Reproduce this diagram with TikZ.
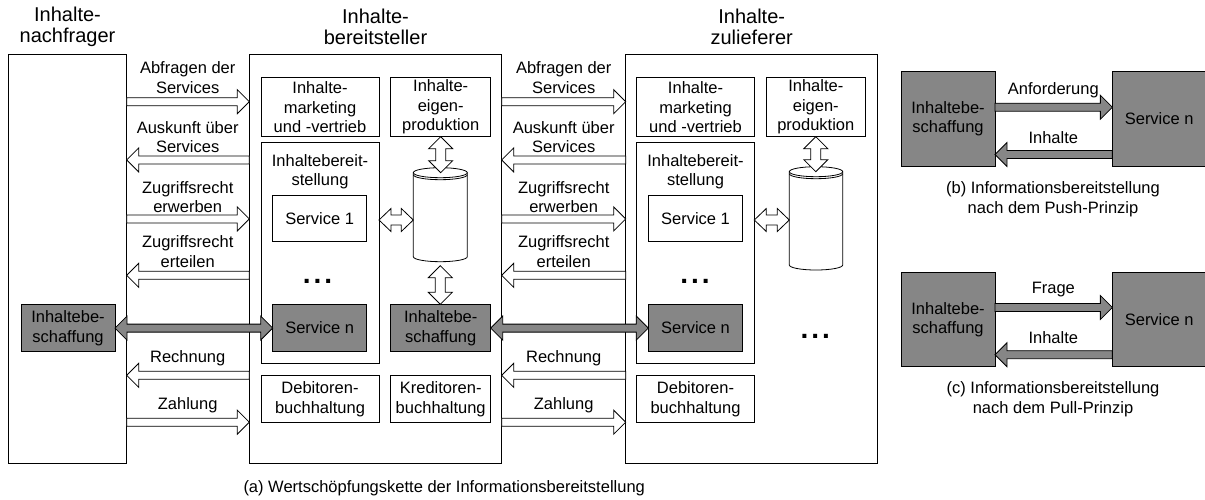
\documentclass[tikz,border=0pt]{standalone}
\usepackage{fontspec}
\setmainfont{Liberation Sans}
\usetikzlibrary{calc}
\definecolor{gfill}{RGB}{134,134,134}
\def\aSW{4}\def\aHW{12}\def\aHL{12}
\newcommand{\fsm}{\fontsize{16.5}{19.5}\selectfont}
\newcommand{\fttl}{\fontsize{20}{20.5}\selectfont}
\newcommand{\threedots}{.\hspace{3pt}.\hspace{3pt}.}
% right-pointing block arrow: tail at #2, tip at #3, pixel y #4
\newcommand{\ArrR}[4][hol]{%
 \draw[#1] let \p1=(#2), \p2=(#3) in
 (\x1,{-(#4-\aSW)*1pt}) -- ({\x2-\aHL*1pt},{-(#4-\aSW)*1pt}) -- ({\x2-\aHL*1pt},{-(#4-\aHW)*1pt})
 -- (\x2,{-(#4)*1pt}) -- ({\x2-\aHL*1pt},{-(#4+\aHW)*1pt}) -- ({\x2-\aHL*1pt},{-(#4+\aSW)*1pt})
 -- (\x1,{-(#4+\aSW)*1pt}) -- cycle;}
% left-pointing block arrow: tip at #2, tail at #3
\newcommand{\ArrL}[4][hol]{%
 \draw[#1] let \p1=(#2), \p2=(#3) in
 (\x2,{-(#4-\aSW)*1pt}) -- ({\x1+\aHL*1pt},{-(#4-\aSW)*1pt}) -- ({\x1+\aHL*1pt},{-(#4-\aHW)*1pt})
 -- (\x1,{-(#4)*1pt}) -- ({\x1+\aHL*1pt},{-(#4+\aHW)*1pt}) -- ({\x1+\aHL*1pt},{-(#4+\aSW)*1pt})
 -- (\x2,{-(#4+\aSW)*1pt}) -- cycle;}
% double horizontal block arrow
\newcommand{\ArrLR}[4][hol]{%
 \draw[#1] let \p1=(#2), \p2=(#3) in
 (\x1,{-(#4)*1pt}) -- ({\x1+\aHL*1pt},{-(#4-\aHW)*1pt}) -- ({\x1+\aHL*1pt},{-(#4-\aSW)*1pt})
 -- ({\x2-\aHL*1pt},{-(#4-\aSW)*1pt}) -- ({\x2-\aHL*1pt},{-(#4-\aHW)*1pt}) -- (\x2,{-(#4)*1pt})
 -- ({\x2-\aHL*1pt},{-(#4+\aHW)*1pt}) -- ({\x2-\aHL*1pt},{-(#4+\aSW)*1pt})
 -- ({\x1+\aHL*1pt},{-(#4+\aSW)*1pt}) -- ({\x1+\aHL*1pt},{-(#4+\aHW)*1pt}) -- cycle;}
% double vertical block arrow: top #2, bottom #3
\newcommand{\ArrUD}[3][hol]{%
 \draw[#1] let \p1=(#2), \p2=(#3) in
 (\x1,\y1) -- ({\x1+\aHW*1pt},{\y1-\aHL*1pt}) -- ({\x1+\aSW*1pt},{\y1-\aHL*1pt})
 -- ({\x1+\aSW*1pt},{\y2+\aHL*1pt}) -- ({\x1+\aHW*1pt},{\y2+\aHL*1pt}) -- (\x1,\y2)
 -- ({\x1-\aHW*1pt},{\y2+\aHL*1pt}) -- ({\x1-\aSW*1pt},{\y2+\aHL*1pt})
 -- ({\x1-\aSW*1pt},{\y1-\aHL*1pt}) -- ({\x1-\aHW*1pt},{\y1-\aHL*1pt}) -- cycle;}
\begin{document}
\begin{tikzpicture}[x=1pt,y=-1pt,
  sz/.style 2 args={minimum width=#1pt, minimum height=#2pt},
  box/.style={draw=black, line width=0.8pt, inner sep=0pt, outer sep=0pt, align=center, font=\fsm},
  gbox/.style={box, fill=gfill},
  txt/.style={inner sep=0pt, align=center, font=\fsm},
  ttl/.style={inner sep=0pt, align=center, font=\fttl},
  dots/.style={inner sep=0pt, font=\fontsize{28}{28}\bfseries\selectfont},
  hol/.style={draw=black, fill=white, line width=0.8pt, line join=miter},
  gar/.style={draw=black, fill=gfill, line width=0.8pt, line join=miter},
  cylst/.style={draw=black, line width=0.8pt},
  anc/.style={inner sep=0pt, outer sep=0pt}]
\useasboundingbox (0,0) rectangle (1205,499);

% titles
\node[ttl] (t1) at (67.5,27) {Inhalte-\\nachfrager};
\node[ttl] (t2) at (375.5,27) {Inhalte-\\bereitsteller};
\node[ttl] (t3) at (751.7,27) {Inhalte-\\zulieferer};

% main boxes
\node[box, sz={118.4}{409}] (nach) at (67.5,258.8) {};
\node[box, sz={252.4}{409}] (bereit) at (375.5,258.8) {};
\node[box, sz={252}{409}] (zulief) at (751.7,258.8) {};

% Inhaltenachfrager
\node[gbox, sz={94}{47.4}] (besch0) at (68,328) {Inhaltebe-\\schaffung};

% Inhaltebereitsteller
\node[box, sz={118}{59}] (mark1) at (320,107.2) {Inhalte-\\marketing\\und -vertrieb};
\node[box, sz={100}{59}] (eigen1) at (440.7,107.2) {Inhalte-\\eigen-\\produktion};
\node[box, sz={118}{220.6}] (bst1) at (320,253) {};
\node[txt] (bst1t) at ($(bst1.north)+(0,29)$) {Inhaltebereit-\\stellung};
\node[box, sz={94}{46}] (s1a) at (319.7,218.7) {Service 1};
\node[dots] (dots1) at (317.5,281) {\threedots};
\node[gbox, sz={94}{47.4}] (sna) at (319.7,328) {Service n};
\node[gbox, sz={100}{47.4}] (besch1) at (440.7,328) {Inhaltebe-\\schaffung};
\node[box, sz={118}{46.6}] (deb1) at (320,399) {Debitoren-\\buchhaltung};
\node[box, sz={100}{46.6}] (kred1) at (440.7,399) {Kreditoren-\\buchhaltung};
\node[anc, sz={54}{84}] (cyl1) at (440.3,214.7) {};
\draw[cylst, fill=white] (cyl1.north west) -- (cyl1.south west)
  arc[start angle=180, end angle=360, x radius=27pt, y radius=5pt] -- (cyl1.north east);
\draw[cylst, fill=white] (cyl1.north) ellipse [x radius=27pt, y radius=5pt];
\draw[cylst] ($(cyl1.north west)+(0,2)$) arc[start angle=180, end angle=360, x radius=27pt, y radius=5pt];

% Inhaltezulieferer
\node[box, sz={117.6}{59}] (mark2) at (695.5,107.2) {Inhalte-\\marketing\\und -vertrieb};
\node[box, sz={99.7}{59}] (eigen2) at (815.8,107.2) {Inhalte-\\eigen-\\produktion};
\node[box, sz={117.6}{220.6}] (bst2) at (695.5,253) {};
\node[txt] (bst2t) at ($(bst2.north)+(0,29)$) {Inhaltebereit-\\stellung};
\node[box, sz={94.4}{46}] (s1b) at (695.5,218.7) {Service 1};
\node[dots] (dots2) at (695,281) {\threedots};
\node[gbox, sz={94.4}{47.4}] (snb) at (695.5,328) {Service n};
\node[box, sz={117.6}{46.6}] (deb2) at (695.5,399) {Debitoren-\\buchhaltung};
\node[anc, sz={53.4}{93.3}] (cyl2) at (816,218.35) {};
\draw[cylst, fill=white] (cyl2.north west) -- (cyl2.south west)
  arc[start angle=180, end angle=360, x radius=26.7pt, y radius=5pt] -- (cyl2.north east);
\draw[cylst, fill=white] (cyl2.north) ellipse [x radius=26.7pt, y radius=5pt];
\draw[cylst] ($(cyl2.north west)+(0,2)$) arc[start angle=180, end angle=360, x radius=26.7pt, y radius=5pt];
\node[dots] (dots3) at (815.3,336.7) {\threedots};

% arrows nachfrager <-> bereitsteller
\ArrR{nach.east}{bereit.west}{101.7}
\ArrL{nach.east}{bereit.west}{159.9}
\ArrR{nach.east}{bereit.west}{218.9}
\ArrL{nach.east}{bereit.west}{275.3}
\ArrLR[gar]{besch0.east}{sna.west}{328.1}
\ArrL{nach.east}{bereit.west}{375.3}
\ArrR{nach.east}{bereit.west}{422.2}
\node[txt] (l11) at (187.7,77.5) {Abfragen der\\Services};
\node[txt] (l12) at (187.7,137) {Auskunft über\\Services};
\node[txt] (l13) at (187.7,197) {Zugriffsrecht\\erwerben};
\node[txt] (l14) at (187.7,251.5) {Zugriffsrecht\\erteilen};
\node[txt] (l15) at (187.7,358.5) {Rechnung};
\node[txt] (l16) at (187.7,405.5) {Zahlung};

% arrows bereitsteller <-> zulieferer
\ArrR{bereit.east}{zulief.west}{101.7}
\ArrL{bereit.east}{zulief.west}{159.9}
\ArrR{bereit.east}{zulief.west}{218.9}
\ArrL{bereit.east}{zulief.west}{275.3}
\ArrLR[gar]{besch1.east}{snb.west}{328.1}
\ArrL{bereit.east}{zulief.west}{375.3}
\ArrR{bereit.east}{zulief.west}{422.2}
\node[txt] (l21) at (563.7,77.5) {Abfragen der\\Services};
\node[txt] (l22) at (563.7,137) {Auskunft über\\Services};
\node[txt] (l23) at (563.7,197) {Zugriffsrecht\\erwerben};
\node[txt] (l24) at (563.7,251.5) {Zugriffsrecht\\erteilen};
\node[txt] (l25) at (563.7,358.5) {Rechnung};
\node[txt] (l26) at (563.7,405.5) {Zahlung};

% internal hollow double arrows
{\def\aSW{5}\def\aHW{12}
\ArrUD{eigen1.south}{cyl1.north}
\ArrUD{[yshift=-9pt]cyl1.south}{besch1.north}
\ArrUD{eigen2.south}{cyl2.north}
\def\aHW{11.5}
\ArrLR{bst1.east}{cyl1.west}{220}
\ArrLR{bst2.east}{cyl2.west}{220}
}

\node[txt] (capa) at (444.2,488.3) {(a) Wertschöpfungskette der Informationsbereitstellung};

% (b) push
\node[gbox, sz={94}{94.3}] (beschB) at (948,118.8) {Inhaltebe-\\schaffung};
\node[gbox, sz={93.7}{94.3}] (servB) at (1159.2,118.8) {Service n};
\ArrR[gar]{beschB.east}{servB.west}{107.2}
\ArrL[gar]{beschB.east}{servB.west}{154.5}
\node[txt] (lb1) at (1053.3,90) {Anforderung};
\node[txt] (lb2) at (1053.3,137.5) {Inhalte};
\node[txt] (capb) at (1053,199.3) {(b) Informationsbereitstellung\\nach dem Push-Prinzip};

% (c) pull
\node[gbox, sz={94}{94.4}] (beschC) at (948,319.5) {Inhaltebe-\\schaffung};
\node[gbox, sz={93.7}{94.4}] (servC) at (1159.2,319.5) {Service n};
\ArrR[gar]{beschC.east}{servC.west}{307.5}
\ArrL[gar]{beschC.east}{servC.west}{354.7}
\node[txt] (lc1) at (1053.3,290) {Frage};
\node[txt] (lc2) at (1053.3,337.5) {Inhalte};
\node[txt] (capc) at (1053,399.3) {(c) Informationsbereitstellung\\nach dem Pull-Prinzip};
\end{tikzpicture}
\end{document}
